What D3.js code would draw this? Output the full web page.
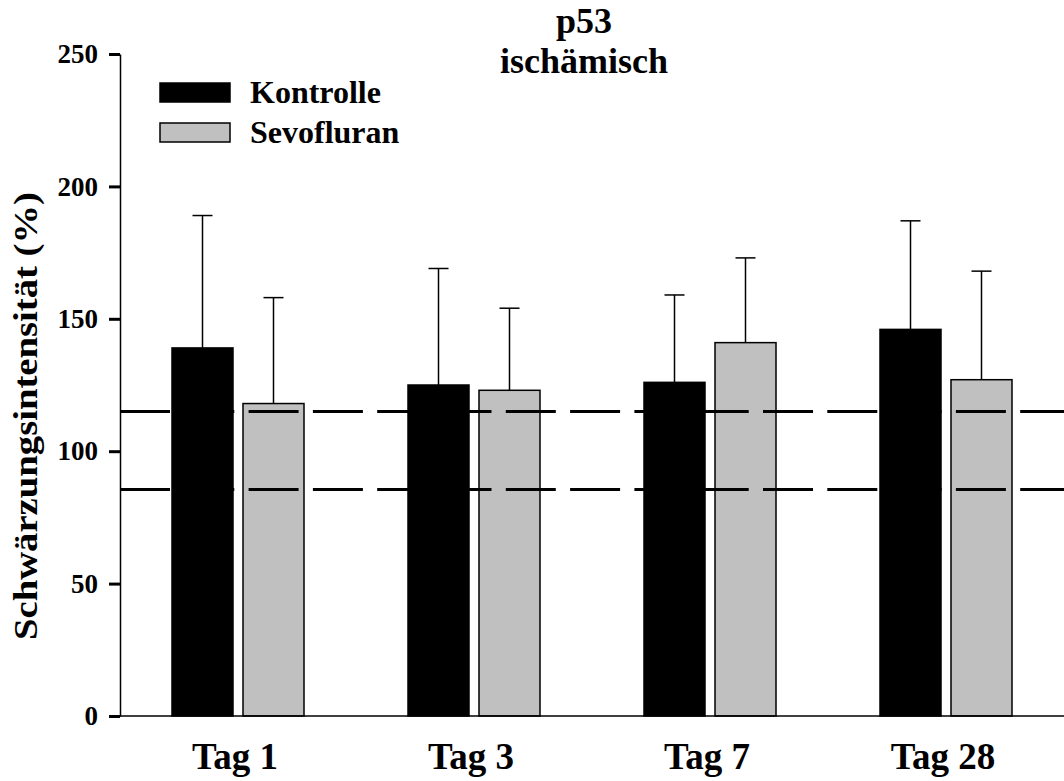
<!DOCTYPE html>
<html>
<head>
<meta charset="utf-8">
<script src="https://cdn.jsdelivr.net/npm/d3@7"></script>
<style>
  body { margin: 0; background: #fff; }
  text { font-family: "Liberation Serif", "Times New Roman", serif; font-weight: bold; fill: #000; }
</style>
</head>
<body>
<div id="chart"></div>
<script>
// data
var categories = ['Tag 1', 'Tag 3', 'Tag 7', 'Tag 28'];
var seriesNames = ['Kontrolle', 'Sevofluran'];
var kontrolle = [139, 125, 126, 146];
var kontrolleErr = [189, 169, 159, 187];   // top of error bar
var sevofluran = [118, 123, 141, 127];
var sevofluranErr = [158, 154, 173, 168];
var refLines = [115, 85.5];
var yTicks = [0, 50, 100, 150, 200, 250];
var titleLines = ['p53', 'ischämisch'];
var yLabel = 'Schwärzungsintensität (%)';

var w = 1064,
  h = 781;

var colors = { 'Kontrolle': '#000000', 'Sevofluran': '#c0c0c0' };

var svg = d3.select('#chart').append('svg')
  .attr('width', w)
  .attr('height', h);

// scales
var y = d3.scaleLinear().domain([0, 250]).range([716, 54]);
var x0 = d3.scaleBand().domain(categories).range([120, 1064]).padding(0);
var x1 = d3.scaleBand().domain(seriesNames)
  .range([x0.bandwidth() / 2 - 66, x0.bandwidth() / 2 + 66])
  .paddingInner(0.1408);

// rows for the bars
var rows = [];
categories.forEach(function(c, i) {
  rows.push({ cat: c, s: 'Kontrolle', v: kontrolle[i], e: kontrolleErr[i] });
  rows.push({ cat: c, s: 'Sevofluran', v: sevofluran[i], e: sevofluranErr[i] });
});

function cx(d) { return x0(d.cat) + x1(d.s) + x1.bandwidth() / 2; }

// error bars (vertical line + cap)
var err = svg.append('g').attr('class', 'errors');
err.selectAll('line.stem')
  .data(rows)
  .enter().append('line')
  .attr('class', 'stem')
  .attr('x1', cx)
  .attr('x2', cx)
  .attr('y1', function(d) { return y(d.v); })
  .attr('y2', function(d) { return y(d.e); })
  .attr('stroke', '#000')
  .attr('stroke-width', 1.5);
err.selectAll('line.cap')
  .data(rows)
  .enter().append('line')
  .attr('class', 'cap')
  .attr('x1', function(d) { return cx(d) - 10; })
  .attr('x2', function(d) { return cx(d) + 10; })
  .attr('y1', function(d) { return y(d.e); })
  .attr('y2', function(d) { return y(d.e); })
  .attr('stroke', '#000')
  .attr('stroke-width', 1.5);

// bars
svg.append('g').selectAll('rect')
  .data(rows)
  .enter().append('rect')
  .attr('x', function(d) { return x0(d.cat) + x1(d.s); })
  .attr('y', function(d) { return y(d.v); })
  .attr('width', x1.bandwidth())
  .attr('height', function(d) { return y(0) - y(d.v); })
  .attr('fill', function(d) { return colors[d.s]; })
  .attr('stroke', '#000')
  .attr('stroke-width', 1.5);

// dashed reference lines on top of the bars
svg.append('g').selectAll('line')
  .data(refLines)
  .enter().append('line')
  .attr('x1', 120)
  .attr('x2', w)
  .attr('y1', function(d) { return y(d); })
  .attr('y2', function(d) { return y(d); })
  .attr('stroke', '#000')
  .attr('stroke-width', 3)
  .attr('stroke-dasharray', '50,14.3');

// y axis
var yAxis = d3.axisLeft(y)
  .tickValues(yTicks)
  .tickSize(11)
  .tickSizeOuter(0)
  .tickPadding(11);
var gy = svg.append('g')
  .attr('transform', 'translate(120,0)')
  .call(yAxis);
gy.attr('font-size', 27).attr('font-family', null);
gy.select('.domain').attr('stroke-width', 1.5);
gy.selectAll('.tick line').attr('stroke-width', 3);
gy.selectAll('.tick text')
  .attr('font-size', 27)
  .style('font-size', '27px');

// x axis line
svg.append('line')
  .attr('x1', 120).attr('x2', w)
  .attr('y1', y(0)).attr('y2', y(0))
  .attr('stroke', '#000')
  .attr('stroke-width', 1.5);

// category labels
svg.append('g').selectAll('text')
  .data(categories)
  .enter().append('text')
  .attr('x', function(d) { return x0(d) + x0.bandwidth() / 2 - 3; })
  .attr('y', 769)
  .attr('text-anchor', 'middle')
  .style('font-size', '37px')
  .text(function(d) { return d; });

// title
svg.append('g').selectAll('text')
  .data(titleLines)
  .enter().append('text')
  .attr('x', 584)
  .attr('y', function(d, i) { return 33 + i * 40; })
  .attr('text-anchor', 'middle')
  .style('font-size', '36px')
  .text(function(d) { return d; });

// y label
svg.append('text')
  .attr('transform', 'translate(37,416) rotate(-90)')
  .attr('text-anchor', 'middle')
  .style('font-size', '34px')
  .attr('textLength', 448)
  .attr('lengthAdjust', 'spacingAndGlyphs')
  .text(yLabel);

// legend
var legend = svg.append('g').selectAll('g')
  .data(seriesNames)
  .enter().append('g')
  .attr('transform', function(d, i) { return 'translate(160,' + (83 + i * 40) + ')'; });
legend.append('rect')
  .attr('width', 70)
  .attr('height', 19)
  .attr('fill', function(d) { return colors[d]; })
  .attr('stroke', '#000')
  .attr('stroke-width', 1.5);
legend.append('text')
  .attr('x', 90)
  .attr('y', 20)
  .style('font-size', '32px')
  .text(function(d) { return d; });
</script>
</body>
</html>
